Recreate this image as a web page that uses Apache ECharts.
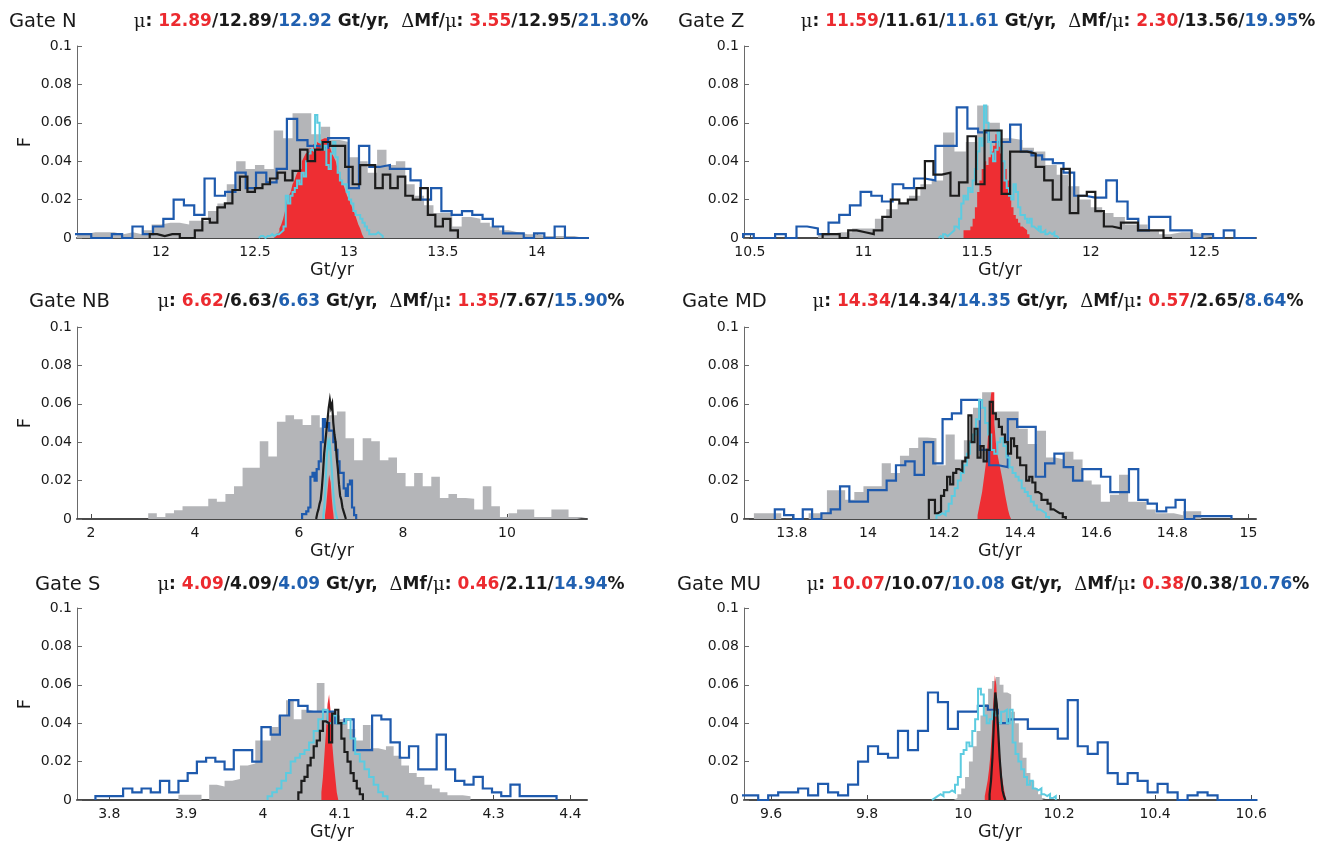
<!DOCTYPE html>
<html><head><meta charset="utf-8">
<script src="https://cdn.jsdelivr.net/npm/echarts@6/dist/echarts.min.js"></script>
<style>html,body{margin:0;padding:0;background:#fff}#c{width:1317px;height:846px}</style>
</head><body><div id="c"></div>
<script>
// ---------------- DATA ----------------
// Each histogram: first bin start, bin width, bin values (F)
const N_range = [11.553, 14.267];
const N_ticks = [12, 12.5, 13, 13.5, 14];
const N_mu = ['12.89', '12.89', '12.92'];
const N_dm = ['3.55', '12.95', '21.30'];
const N_gray = {start: 11.55, width: 0.05, values: [0.002,0.003,0.003,0.003,0.002,0.003,0.002,0.004,0.007,0.008,0.008,0.007,0.009,0.009,0.014,0.018,0.028,0.040,0.036,0.038,0.036,0.056,0.052,0.065,0.065,0.054,0.058,0.051,0.050,0.042,0.040,0.034,0.046,0.038,0.040,0.028,0.022,0.017,0.013,0.013,0.006,0.011,0.010,0.008,0.006,0.004,0.003,0.002,0.002,0.001,0.001,0.001,0.001,0]};
const N_blue = {start: 11.5192, width: 0.0548, values: [0.002,0.002,0,0,0.002,0,0.006,0.002,0.006,0.010,0.020,0.017,0.012,0.031,0.022,0.024,0.034,0.026,0.034,0.029,0.036,0.062,0.051,0.048,0.047,0.052,0.052,0.026,0.048,0.037,0.038,0.036,0.036,0.030,0.020,0.026,0.014,0.012,0.014,0.012,0.010,0.006,0.0024,0.0024,0,0.0024,0,0.006,0,0,0]};
const N_black = {start: 11.94, width: 0.04, values: [0.002,0.001,0.002,0.002,0,0,0.004,0.010,0.008,0.016,0.018,0.025,0.032,0.024,0.026,0.028,0.031,0.034,0.030,0.035,0.046,0.040,0.046,0.050,0.048,0.048,0.037,0.028,0.038,0.038,0.026,0.033,0.026,0.032,0.022,0.020,0.026,0.012,0.006,0.010,0.004]};
const N_cyan = {start: 12.52, width: 0.012, values: [0.001,0.001,0,0.001,0.001,0.002,0.001,0.002,0.002,0.003,0.004,0.006,0.022,0.018,0.022,0.024,0.026,0.030,0.028,0.034,0.032,0.040,0.044,0.046,0.045,0.064,0.060,0.050,0.046,0.048,0.038,0.036,0.044,0.050,0.042,0.034,0.030,0.028,0.028,0.024,0.020,0.018,0.014,0.012,0.012,0.010,0.008,0.006,0.004,0.002,0.002,0.002,0.003,0.002,0.001]};
const N_red = {start: 12.60, width: 0.01, values: [0.001,0.002,0.003,0.005,0.007,0.010,0.014,0.020,0.022,0.024,0.028,0.030,0.033,0.035,0.036,0.040,0.042,0.044,0.045,0.047,0.046,0.049,0.048,0.050,0.049,0.051,0.052,0.053,0.052,0.050,0.047,0.044,0.042,0.040,0.036,0.033,0.030,0.028,0.025,0.022,0.020,0.018,0.015,0.013,0.010,0.007,0.005,0.002]};

const Z_range = [10.474, 12.727];
const Z_ticks = [10.5, 11, 11.5, 12, 12.5];
const Z_mu = ['11.59', '11.61', '11.61'];
const Z_dm = ['2.30', '13.56', '19.95'];
const Z_gray = {start: 10.80, width: 0.05, values: [0.002,0.003,0.003,0.005,0.005,0.010,0.015,0.018,0.022,0.028,0.030,0.055,0.045,0.050,0.069,0.060,0.052,0.051,0.047,0.045,0.038,0.033,0.027,0.020,0.016,0.013,0.011,0.007,0.007,0.004,0.002,0.003,0.003,0.002,0.001]};
const Z_blue = {start: 10.47, width: 0.047, values: [0.002,0,0,0.002,0,0.006,0.005,0.002,0.008,0.012,0.017,0.024,0.022,0.019,0.028,0.026,0.031,0.030,0.048,0.048,0.068,0.057,0.055,0.050,0.050,0.059,0.045,0.043,0.041,0.039,0.034,0.022,0.021,0.021,0.030,0.019,0.010,0.004,0.011,0.011,0.004,0.004,0,0.002,0,0.004,0,0]};
const Z_black = {start: 10.82, width: 0.0375, values: [0.002,0.002,0,0.004,0.003,0.002,0.004,0.011,0.020,0.018,0.020,0.026,0.040,0.033,0.034,0.022,0.029,0.053,0.028,0.056,0.056,0.023,0.045,0.045,0.044,0.037,0.030,0.020,0.036,0.013,0.022,0.024,0.014,0.006,0.005,0.008,0.008,0.004,0.004,0.004,0]};
const Z_cyan = {start: 11.33, width: 0.01, values: [0.001,0,0.002,0.001,0.002,0.003,0.004,0.006,0.005,0.010,0.018,0.022,0.020,0.026,0.024,0.030,0.036,0.045,0.052,0.048,0.069,0.060,0.050,0.044,0.040,0.046,0.056,0.048,0.040,0.030,0.026,0.022,0.020,0.028,0.024,0.016,0.012,0.012,0.010,0.008,0.010,0.006,0.005,0.004,0.006,0.003,0.004,0.002,0.003,0.002,0.003,0.001,0]};
const Z_red = {start: 11.44, width: 0.01, values: [0.004,0.004,0.004,0.006,0.010,0.016,0.024,0.030,0.036,0.040,0.038,0.042,0.045,0.048,0.054,0.050,0.044,0.040,0.036,0.030,0.022,0.016,0.012,0.010,0.008,0.006,0.005,0.004,0.002]};

const NB_range = [1.73, 11.54];
const NB_ticks = [2, 4, 6, 8, 10];
const NB_mu = ['6.62', '6.63', '6.63'];
const NB_dm = ['1.35', '7.67', '15.90'];
const NB_gray = {start: 3.10, width: 0.165, values: [0.003,0.001,0.003,0.0046,0.0067,0.0067,0.0067,0.0106,0.009,0.013,0.017,0.0267,0.0267,0.0405,0.0326,0.0506,0.054,0.052,0.049,0.054,0.0477,0.054,0.056,0.042,0.0306,0.042,0.0405,0.0306,0.032,0.024,0.017,0.024,0.017,0.022,0.011,0.013,0.011,0.0106,0.005,0.017,0.0067,0.001,0.003,0.005,0.005,0.001,0.001,0.005,0.005,0.001,0.001]};
const NB_blue = {start: 6.06, width: 0.04, values: [0.0025,0.0025,0.004,0.006,0.022,0.024,0.020,0.026,0.030,0.040,0.052,0.048,0.050,0.046,0.046,0.040,0.036,0.030,0.024,0.024,0.016,0.012,0.018,0.020,0.006,0.002]};
const NB_black = {start: 6.33, width: 0.022, values: [0.001,0.003,0.005,0.008,0.010,0.016,0.024,0.034,0.040,0.046,0.052,0.058,0.062,0.058,0.060,0.050,0.044,0.040,0.032,0.026,0.018,0.012,0.010,0.006,0.004,0.002]};
const NB_cyan = {start: 6.47, width: 0.015, values: [0.002,0.006,0.012,0.020,0.030,0.036,0.040,0.038,0.040,0.036,0.030,0.024,0.018,0.012,0.008,0.005,0.003,0.001]};
const NB_red = {start: 6.50, width: 0.01, values: [0.002,0.004,0.006,0.009,0.012,0.015,0.018,0.021,0.023,0.024,0.022,0.019,0.015,0.011,0.008,0.005,0.003]};

const MD_range = [13.674, 15.02];
const MD_ticks = [13.8, 14, 14.2, 14.4, 14.6, 14.8, 15];
const MD_mu = ['14.34', '14.34', '14.35'];
const MD_dm = ['0.57', '2.65', '8.64'];
const MD_gray = {start: 13.70, width: 0.024, values: [0.003,0.003,0.003,0,0,0,0.003,0.003,0.015,0.015,0.010,0.014,0.017,0.017,0.029,0.024,0.033,0.037,0.0425,0.042,0.028,0.044,0.031,0.041,0.058,0.066,0.056,0.056,0.056,0.047,0.039,0.046,0.032,0.031,0.035,0.031,0.020,0.018,0.009,0.0126,0.023,0.009,0.009,0.005,0.003,0.003,0.002,0.004,0.004]};
const MD_blue = {start: 13.755, width: 0.0245, values: [0.005,0.002,0,0.005,0,0.003,0.005,0.017,0.009,0.009,0.015,0.015,0.020,0.028,0.030,0.023,0.040,0.029,0.052,0.055,0.062,0.062,0.036,0.028,0.027,0.052,0.048,0.048,0.022,0.029,0.034,0.027,0.020,0.026,0.026,0.022,0.014,0.014,0.026,0.010,0.008,0.004,0.006,0.010,0,0.0015,0.0015,0.0015,0.0015]};
const MD_black = {start: 14.16, width: 0.008, values: [0.010,0.010,0.003,0.004,0.012,0.015,0.022,0.018,0.024,0.026,0.025,0.030,0.032,0.054,0.040,0.047,0.032,0.038,0.030,0.036,0.061,0.055,0.052,0.048,0.044,0.040,0.034,0.042,0.038,0.032,0.028,0.028,0.020,0.022,0.019,0.014,0.013,0.010,0.010,0.008,0.005,0.004,0.003,0.003,0.001]};
const MD_cyan = {start: 14.18, width: 0.008, values: [0.002,0.003,0.002,0.004,0.008,0.012,0.016,0.020,0.024,0.028,0.034,0.040,0.044,0.052,0.062,0.058,0.050,0.044,0.036,0.034,0.040,0.042,0.038,0.032,0.027,0.024,0.022,0.020,0.016,0.014,0.012,0.009,0.007,0.005,0.004,0.003,0.001]};
const MD_red = {start: 14.288, width: 0.004, values: [0.002,0.006,0.010,0.014,0.020,0.026,0.032,0.045,0.058,0.066,0.066,0.050,0.040,0.034,0.030,0.026,0.022,0.018,0.013,0.009,0.005,0.002]};

const S_range = [3.758, 4.4216];
const S_ticks = [3.8, 3.9, 4, 4.1, 4.2, 4.3, 4.4];
const S_mu = ['4.09', '4.09', '4.09'];
const S_dm = ['0.46', '2.11', '14.94'];
const S_gray = {start: 3.89, width: 0.01, values: [0.0027,0.0027,0.0027,0,0.008,0.007,0.010,0.011,0.018,0.019,0.031,0.031,0.038,0.044,0.052,0.042,0.047,0.046,0.061,0.046,0.044,0.042,0.037,0.031,0.039,0.027,0.026,0.028,0.023,0.018,0.014,0.012,0.008,0.006,0.004,0.0025,0.0025,0.002]};
const S_blue = {start: 3.782, width: 0.012, values: [0.002,0.002,0.002,0.006,0.004,0.006,0.004,0.010,0.004,0.010,0.014,0.020,0.022,0.020,0.016,0.026,0.026,0.020,0.038,0.034,0.044,0.052,0.049,0.046,0.046,0.046,0.040,0.042,0.026,0.026,0.044,0.042,0.030,0.022,0.028,0.016,0.016,0.034,0.016,0.010,0.008,0.012,0.006,0.004,0.002,0.008,0.002,0.002,0.002,0.002]};
const S_black = {start: 4.046, width: 0.004, values: [0.004,0.010,0.012,0.018,0.022,0.028,0.031,0.036,0.041,0.040,0.030,0.045,0.047,0.040,0.032,0.025,0.020,0.014,0.010,0.006,0.003]};
const S_cyan = {start: 4.006, width: 0.006, values: [0.002,0.004,0.006,0.010,0.014,0.020,0.022,0.024,0.026,0.030,0.036,0.042,0.047,0.040,0.044,0.040,0.040,0.042,0.032,0.024,0.020,0.016,0.012,0.008,0.004,0.002]};
const S_red = {start: 4.076, width: 0.002, values: [0.004,0.012,0.024,0.036,0.050,0.055,0.046,0.030,0.020,0.012,0.004]};

const MU_range = [9.5435, 10.61];
const MU_ticks = [9.6, 9.8, 10, 10.2, 10.4, 10.6];
const MU_mu = ['10.07', '10.07', '10.08'];
const MU_dm = ['0.38', '0.38', '10.76'];
const MU_gray = {start: 9.98, width: 0.008, values: [0.001,0.003,0.006,0.012,0.020,0.028,0.036,0.044,0.050,0.058,0.062,0.064,0.060,0.056,0.055,0.046,0.040,0.030,0.022,0.014,0.010,0.006,0.003,0.001]};
const MU_blue = {start: 9.5315, width: 0.0208, values: [0.0024,0.0024,0,0.0024,0.004,0.004,0.006,0.0024,0.0084,0.004,0.0024,0.008,0.020,0.028,0.024,0.022,0.036,0.026,0.036,0.056,0.051,0.037,0.046,0.046,0.049,0.047,0.040,0.042,0.042,0.037,0.037,0.037,0.032,0.052,0.028,0.024,0.030,0.014,0.0084,0.014,0.010,0.004,0.0084,0.004,0,0.0024,0.004,0.0024,0,0,0,0]};
const MU_black = {start: 10.055, width: 0.003, values: [0.003,0.010,0.022,0.040,0.056,0.050,0.036,0.022,0.012,0.005,0.002]};
const MU_cyan = {start: 9.935, width: 0.006, values: [0.001,0.002,0.003,0.002,0.004,0.004,0.005,0.004,0.008,0.012,0.024,0.026,0.030,0.028,0.036,0.042,0.058,0.055,0.044,0.040,0.042,0.046,0.044,0.040,0.046,0.047,0.040,0.047,0.030,0.024,0.020,0.016,0.012,0.008,0.010,0.006,0.005,0.006,0.003,0.002,0.003,0.001,0.002]};
const MU_red = {start: 10.045, width: 0.003, values: [0.002,0.006,0.010,0.016,0.024,0.036,0.052,0.065,0.060,0.044,0.030,0.020,0.012,0.007,0.003]};

// ---------------- LAYOUT / STYLE ----------------
const GRID_L = [77, 744], GRID_W = [510, 512], GRID_T = [46, 327, 608], GRID_H = 192;
const TITLE_Y = [22, 302, 585];
const MU_CX = [391, 1058];
const GRAY = '#b4b5b8', RED = '#ee2e33', BLUE = '#1e5aad', BLACK = '#1c1c1c', CYAN = '#5ccbe0';
const TXT = '#1a1a1a', RED_T = '#ec2a2f', BLUE_T = '#2060b0';
const FONT = 'DejaVu Sans';

const panels = [
  {name: 'Gate N',  gx: 9,   row: 0, col: 0, range: N_range,  ticks: N_ticks,  mu: N_mu,  dm: N_dm,  h: [N_gray, N_red, N_blue, N_cyan, N_black]},
  {name: 'Gate Z',  gx: 678, row: 0, col: 1, range: Z_range,  ticks: Z_ticks,  mu: Z_mu,  dm: Z_dm,  h: [Z_gray, Z_red, Z_blue, Z_cyan, Z_black]},
  {name: 'Gate NB', gx: 29,  row: 1, col: 0, range: NB_range, ticks: NB_ticks, mu: NB_mu, dm: NB_dm, h: [NB_gray, NB_red, NB_blue, NB_cyan, NB_black]},
  {name: 'Gate MD', gx: 682, row: 1, col: 1, range: MD_range, ticks: MD_ticks, mu: MD_mu, dm: MD_dm, h: [MD_gray, MD_red, MD_blue, MD_cyan, MD_black]},
  {name: 'Gate S',  gx: 35,  row: 2, col: 0, range: S_range,  ticks: S_ticks,  mu: S_mu,  dm: S_dm,  h: [S_gray, S_red, S_blue, S_cyan, S_black]},
  {name: 'Gate MU', gx: 677, row: 2, col: 1, range: MU_range, ticks: MU_ticks, mu: MU_mu, dm: MU_dm, h: [MU_gray, MU_red, MU_blue, MU_cyan, MU_black]}
];

function stepPts(h) {
  const p = [[h.start, 0]];
  for (let i = 0; i < h.values.length; i++) p.push([h.start + i * h.width, h.values[i]]);
  p.push([h.start + h.values.length * h.width, 0]);
  return p;
}

const grids = [], xAxes = [], yAxes = [], series = [], graphics = [];
const kinds = [
  {color: GRAY, area: true, z: 1},
  {color: RED, area: true, z: 2},
  {color: BLUE, area: false, z: 3, w: 2.2},
  {color: CYAN, area: false, z: 4, w: 2},
  {color: BLACK, area: false, z: 5, w: 2.2}
];

panels.forEach((p, i) => {
  grids.push({left: GRID_L[p.col], top: GRID_T[p.row], width: GRID_W[p.col], height: GRID_H, containLabel: false});
  xAxes.push({
    type: 'value', gridIndex: i, min: p.range[0], max: p.range[1],
    splitLine: {show: false},
    axisLine: {show: true, onZero: false, lineStyle: {color: '#4a4a4a', width: 2}},
    axisTick: {show: true, inside: true, length: 5, customValues: p.ticks, lineStyle: {color: '#4a4a4a', width: 1}},
    axisLabel: {customValues: p.ticks, fontFamily: FONT, fontSize: 14, color: TXT, margin: 7},
    name: 'Gt/yr', nameLocation: 'middle', nameGap: 23,
    nameTextStyle: {fontFamily: FONT, fontSize: 17.5, color: TXT}
  });
  const ya = {
    type: 'value', gridIndex: i, min: 0, max: 0.1, interval: 0.02,
    splitLine: {show: false},
    axisLine: {show: true, onZero: false, lineStyle: {color: '#6a6a6a', width: 1}},
    axisTick: {show: true, inside: true, length: 5, lineStyle: {color: '#6a6a6a'}},
    axisLabel: {fontFamily: FONT, fontSize: 14, color: TXT, margin: 5,
      formatter: v => v === 0 ? '0' : String(Math.round(v * 100) / 100)}
  };
  if (p.col === 0) {
    Object.assign(ya, {name: 'F', nameLocation: 'middle', nameRotate: 90, nameGap: 43,
      nameTextStyle: {fontFamily: FONT, fontSize: 18, color: TXT}});
  }
  yAxes.push(ya);
  p.h.forEach((h, k) => {
    const kd = kinds[k];
    const s = {
      type: 'line', xAxisIndex: i, yAxisIndex: i, step: 'end', symbol: 'none',
      data: stepPts(h), z: kd.z, silent: true, animation: false, clip: true
    };
    if (kd.area) {
      s.lineStyle = {width: 0, opacity: 0};
      s.areaStyle = {color: kd.color, opacity: 1};
    } else {
      s.lineStyle = {color: kd.color, width: kd.w, join: 'miter'};
    }
    series.push(s);
  });
  graphics.push({
    type: 'text', x: p.gx, y: TITLE_Y[p.row],
    style: {text: p.name, fontFamily: FONT, fontSize: 19.5, fill: TXT,
      align: 'left', verticalAlign: 'middle', textAlign: 'left', textVerticalAlign: 'middle'}
  });
  const txt = '{g|μ}{k|: }{r|' + p.mu[0] + '}{k|/' + p.mu[1] + '/}{u|' + p.mu[2] + '}{k| Gt/yr,  }' +
              '{g|Δ}{k|Mf/}{g|μ}{k|: }{r|' + p.dm[0] + '}{k|/' + p.dm[1] + '/}{u|' + p.dm[2] + '}{k|%}';
  graphics.push({
    type: 'text', x: MU_CX[p.col], y: TITLE_Y[p.row],
    style: {
      text: txt, align: 'center', verticalAlign: 'middle', textAlign: 'center', textVerticalAlign: 'middle',
      rich: {
        k: {fontFamily: FONT, fontSize: 17, fontWeight: 'bold', fill: TXT, color: TXT},
        g: {fontFamily: 'DejaVu Serif', fontSize: 18, fontWeight: 'normal', fill: TXT, color: TXT},
        r: {fontFamily: FONT, fontSize: 17, fontWeight: 'bold', fill: RED_T, color: RED_T},
        u: {fontFamily: FONT, fontSize: 17, fontWeight: 'bold', fill: BLUE_T, color: BLUE_T}
      }
    }
  });
});

const chart = echarts.init(document.getElementById('c'), null, {renderer: 'canvas'});
chart.setOption({
  animation: false,
  backgroundColor: '#ffffff',
  grid: grids, xAxis: xAxes, yAxis: yAxes, series: series, graphic: graphics
});
</script>
</body></html>
